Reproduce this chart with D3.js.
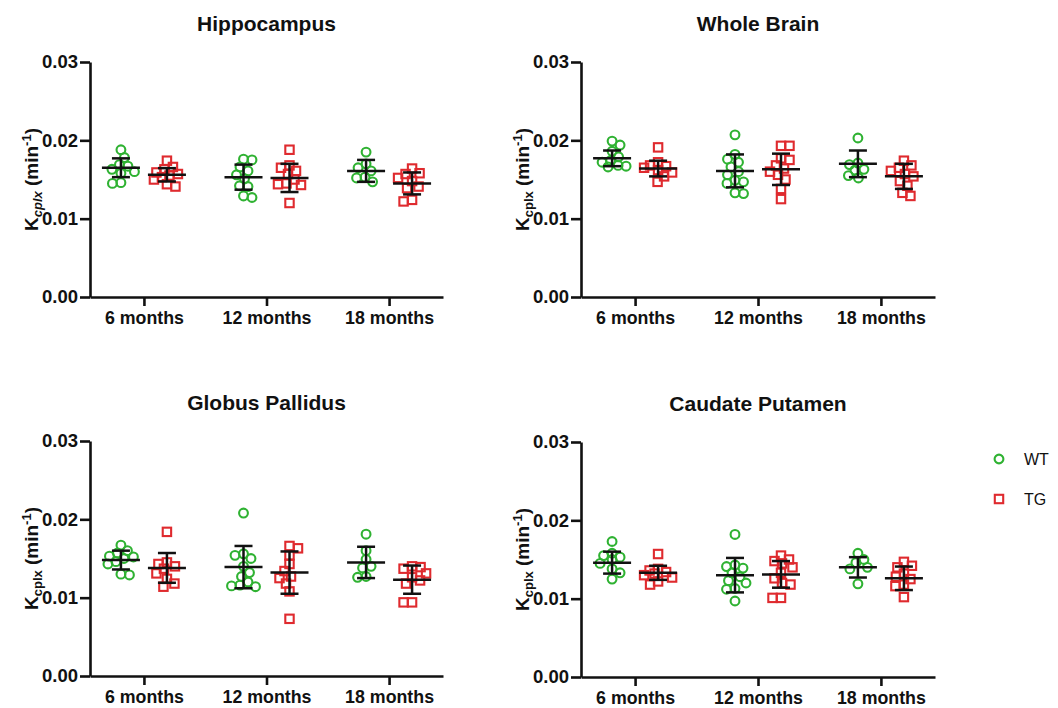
<!DOCTYPE html>
<html>
<head>
<meta charset="utf-8">
<script src="https://cdn.jsdelivr.net/npm/d3@7/dist/d3.min.js"></script>
<style>
  html, body { margin: 0; padding: 0; background: #ffffff; }
  svg { display: block; font-family: "Liberation Sans", Arial, Helvetica, sans-serif; }
</style>
</head>
<body>
<svg id="chart" width="1058" height="708"></svg>
<script>
// ---- data -------------------------------------------------------------
const ages = ["6 months", "12 months", "18 months"];
const groups = ["WT", "TG"];
const regions = ["Hippocampus", "Whole Brain", "Globus Pallidus", "Caudate Putamen"];
const yTicks = [0, 0.01, 0.02, 0.03];

// individual animals, one list per age
const hippocampusWT = [
  [0.0188, 0.0178, 0.0169, 0.0167, 0.0163, 0.0160, 0.0158, 0.0146, 0.0145],
  [0.0175, 0.0176, 0.0166, 0.0161, 0.0156, 0.0151, 0.0142, 0.0141, 0.0129, 0.0127],
  [0.0185, 0.0170, 0.0165, 0.0161, 0.0153, 0.0152, 0.0147]
];
const hippocampusTG = [
  [0.0174, 0.0166, 0.0163, 0.0159, 0.0157, 0.0155, 0.0153, 0.0150, 0.0144, 0.0141],
  [0.0188, 0.0168, 0.0165, 0.0161, 0.0157, 0.0150, 0.0145, 0.0144, 0.0143, 0.0120],
  [0.0164, 0.0158, 0.0157, 0.0152, 0.0148, 0.0141, 0.0139, 0.0124, 0.0122]
];
const wholeBrainWT = [
  [0.0199, 0.0194, 0.0186, 0.0179, 0.0174, 0.0172, 0.0168, 0.0167, 0.0166],
  [0.0207, 0.0182, 0.0176, 0.0172, 0.0166, 0.0160, 0.0156, 0.0149, 0.0147, 0.0145, 0.0133, 0.0132],
  [0.0203, 0.0171, 0.0169, 0.0163, 0.0162, 0.0155, 0.0152]
];
const wholeBrainTG = [
  [0.0191, 0.0172, 0.0168, 0.0167, 0.0165, 0.0162, 0.0159, 0.0154, 0.0147],
  [0.0193, 0.0193, 0.0177, 0.0175, 0.0168, 0.0164, 0.0160, 0.0156, 0.0150, 0.0138, 0.0125],
  [0.0174, 0.0168, 0.0165, 0.0161, 0.0157, 0.0154, 0.0148, 0.0142, 0.0133, 0.0129]
];
const globusPallidusWT = [
  [0.0167, 0.0160, 0.0157, 0.0153, 0.0152, 0.0150, 0.0146, 0.0143, 0.0130, 0.0129],
  [0.0208, 0.0156, 0.0154, 0.0150, 0.0140, 0.0132, 0.0127, 0.0120, 0.0116, 0.0115, 0.0114],
  [0.0181, 0.0160, 0.0149, 0.0140, 0.0138, 0.0127, 0.0126]
];
const globusPallidusTG = [
  [0.0184, 0.0145, 0.0143, 0.0140, 0.0137, 0.0131, 0.0124, 0.0118, 0.0114],
  [0.0166, 0.0163, 0.0154, 0.0143, 0.0134, 0.0127, 0.0125, 0.0118, 0.0108, 0.0073],
  [0.0140, 0.0139, 0.0137, 0.0131, 0.0126, 0.0122, 0.0118, 0.0094, 0.0094]
];
const caudatePutamenWT = [
  [0.0173, 0.0158, 0.0155, 0.0153, 0.0150, 0.0145, 0.0138, 0.0133, 0.0125],
  [0.0182, 0.0143, 0.0141, 0.0139, 0.0133, 0.0128, 0.0123, 0.0120, 0.0113, 0.0112, 0.0097],
  [0.0158, 0.0150, 0.0146, 0.0140, 0.0138, 0.0119]
];
const caudatePutamenTG = [
  [0.0157, 0.0138, 0.0136, 0.0134, 0.0132, 0.0130, 0.0127, 0.0122, 0.0118],
  [0.0155, 0.0150, 0.0148, 0.0145, 0.0140, 0.0133, 0.0126, 0.0120, 0.0118, 0.0101, 0.0101],
  [0.0147, 0.0142, 0.0140, 0.0132, 0.0128, 0.0125, 0.0118, 0.0116, 0.0102]
];

// group mean and standard deviation per age
const hippocampusWTMean = [0.0165, 0.0153, 0.0161];
const hippocampusWTSD   = [0.0012, 0.0016, 0.0014];
const hippocampusTGMean = [0.0156, 0.0152, 0.0145];
const hippocampusTGSD   = [0.00085, 0.0018, 0.0014];
const wholeBrainWTMean = [0.0177, 0.0161, 0.0170];
const wholeBrainWTSD   = [0.0010, 0.0021, 0.0017];
const wholeBrainTGMean = [0.0164, 0.0163, 0.0154];
const wholeBrainTGSD   = [0.0010, 0.0020, 0.0016];
const globusPallidusWTMean = [0.0148, 0.0139, 0.0145];
const globusPallidusWTSD   = [0.0012, 0.0027, 0.0020];
const globusPallidusTGMean = [0.0138, 0.0132, 0.0123];
const globusPallidusTGSD   = [0.0019, 0.0027, 0.0018];
const caudatePutamenWTMean = [0.0146, 0.0130, 0.0140];
const caudatePutamenWTSD   = [0.0014, 0.0022, 0.0013];
const caudatePutamenTGMean = [0.0133, 0.0131, 0.0126];
const caudatePutamenTGSD   = [0.0009, 0.0017, 0.0015];

// ---- layout & style ---------------------------------------------------
const GREEN = "#2fb232";
const RED = "#df2a2e";
const INK = "#111111";

const panels = [
  { title: regions[0], left: 90,  top: 62,  w: 353, h: 235, italicSub: true,
    values: [hippocampusWT, hippocampusTG], mean: [hippocampusWTMean, hippocampusTGMean], sd: [hippocampusWTSD, hippocampusTGSD] },
  { title: regions[1], left: 581, top: 62,  w: 354, h: 235, italicSub: false,
    values: [wholeBrainWT, wholeBrainTG], mean: [wholeBrainWTMean, wholeBrainTGMean], sd: [wholeBrainWTSD, wholeBrainTGSD] },
  { title: regions[2], left: 90,  top: 441, w: 353, h: 235, italicSub: false,
    values: [globusPallidusWT, globusPallidusTG], mean: [globusPallidusWTMean, globusPallidusTGMean], sd: [globusPallidusWTSD, globusPallidusTGSD] },
  { title: regions[3], left: 581, top: 442, w: 354, h: 235, italicSub: false,
    values: [caudatePutamenWT, caudatePutamenTG], mean: [caudatePutamenWTMean, caudatePutamenTGMean], sd: [caudatePutamenWTSD, caudatePutamenTGSD] }
];

const svg = d3.select("#chart");
svg.append("rect").attr("width", 1058).attr("height", 708).attr("fill", "#fff");

// compact swarm: each point takes the nearest free horizontal slot within a
// limited half-width; when none is free it takes the least crowded one
function swarm(vals, y, minDist, maxDx) {
  const placed = [];
  const order = vals.map((v, i) => ({ v, i })).sort((a, b) => b.v - a.v);
  order.forEach((d, n) => {
    const py = y(d.v);
    let chosen = null, bestDx = 0, bestGap = -1;
    for (let k = 0; k <= maxDx * 4; k++) {
      const mag = Math.ceil(k / 2) * 0.5;
      if (mag > maxDx) break;
      const sign = (k % 2 === 0) === (n % 2 === 0) ? 1 : -1;
      const dx = mag * sign;
      const gap = placed.length
        ? d3.min(placed, p => Math.hypot(p.dx - dx, p.y - py))
        : Infinity;
      if (gap >= minDist) { chosen = dx; break; }
      if (gap > bestGap + 0.5) { bestGap = gap; bestDx = dx; }
    }
    placed.push({ v: d.v, y: py, dx: chosen === null ? bestDx : chosen });
  });
  return placed;
}

function drawMarker(g, shape, cx, cy, color) {
  if (shape === "circle") {
    g.append("circle").attr("cx", cx).attr("cy", cy).attr("r", 4.4)
      .attr("fill", "none").attr("stroke", color).attr("stroke-width", 2.1);
  } else {
    const s = 8.4;
    g.append("rect").attr("x", cx - s / 2).attr("y", cy - s / 2).attr("width", s).attr("height", s)
      .attr("fill", "none").attr("stroke", color).attr("stroke-width", 2.1);
  }
}

const groupColor = [GREEN, RED];
const groupShape = ["circle", "square"];

panels.forEach(p => {
  const g = svg.append("g").attr("transform", `translate(${p.left},${p.top})`);

  const y = d3.scaleLinear().domain([0, 0.03]).range([p.h, 0]);
  const x = d3.scalePoint().domain(ages).range([0, p.w]).padding(0.44);
  const xg = d3.scalePoint().domain(groups).range([-23, 23]);

  // title
  g.append("text")
    .attr("x", p.w / 2).attr("y", -31)
    .attr("text-anchor", "middle")
    .attr("font-size", 21).attr("font-weight", "bold").attr("fill", INK)
    .text(p.title);

  // points
  const marks = g.append("g");
  groups.forEach((grp, gi) => {
    ages.forEach((age, ai) => {
      const cx = x(age) + xg(grp);
      swarm(p.values[gi][ai], y, 8.5, 14).forEach(pt => {
        drawMarker(marks, groupShape[gi], cx + pt.dx, pt.y, groupColor[gi]);
      });
    });
  });

  // mean ± SD
  const bars = g.append("g").attr("stroke", INK).attr("stroke-width", 2.5).attr("fill", "none");
  groups.forEach((grp, gi) => {
    ages.forEach((age, ai) => {
      const cx = x(age) + xg(grp);
      const m = p.mean[gi][ai], s = p.sd[gi][ai];
      bars.append("line").attr("x1", cx).attr("x2", cx).attr("y1", y(m + s)).attr("y2", y(m - s));
      bars.append("line").attr("x1", cx - 9).attr("x2", cx + 9).attr("y1", y(m + s)).attr("y2", y(m + s));
      bars.append("line").attr("x1", cx - 9).attr("x2", cx + 9).attr("y1", y(m - s)).attr("y2", y(m - s));
      bars.append("line").attr("x1", cx - 19).attr("x2", cx + 19).attr("y1", y(m)).attr("y2", y(m));
    });
  });

  // axes
  const yAxis = g.append("g")
    .call(d3.axisLeft(y).tickValues(yTicks).tickFormat(d3.format(".2f")).tickSize(10).tickSizeOuter(0).tickPadding(2));
  const xAxis = g.append("g").attr("transform", `translate(0,${p.h})`)
    .call(d3.axisBottom(x).tickSize(9).tickSizeOuter(0).tickPadding(5));
  [yAxis, xAxis].forEach(a => {
    a.selectAll("path, line").attr("stroke", INK).attr("stroke-width", 2.6);
    a.selectAll("text").attr("fill", INK).attr("font-weight", "bold")
      .attr("font-family", "'Liberation Sans', Arial, sans-serif");
  });
  yAxis.selectAll("text").attr("font-size", 18.5);
  xAxis.selectAll("text").attr("font-size", 17.8);

  // y-axis label: K_cplx (min^-1)
  const lab = g.append("text")
    .attr("transform", `translate(-52,${p.h / 2}) rotate(-90)`)
    .attr("text-anchor", "middle")
    .attr("font-size", 19).attr("font-weight", "bold").attr("fill", INK);
  lab.append("tspan").text("K");
  lab.append("tspan").attr("dy", 4).attr("font-size", 13)
    .attr("font-style", p.italicSub ? "italic" : "normal").text("cplx");
  lab.append("tspan").attr("dy", -4).text(" (min");
  lab.append("tspan").attr("dy", -7).attr("font-size", 13).text("-1");
  lab.append("tspan").attr("dy", 7).text(")");
});

// legend
const legend = svg.append("g").attr("transform", "translate(999,459)");
groups.forEach((grp, gi) => {
  const row = legend.append("g").attr("transform", `translate(0,${gi * 40})`);
  drawMarker(row, groupShape[gi], 0, 0, groupColor[gi]);
  row.append("text").attr("x", 25).attr("y", 6)
    .attr("font-size", 16).attr("fill", INK).text(grp);
});
</script>
</body>
</html>
